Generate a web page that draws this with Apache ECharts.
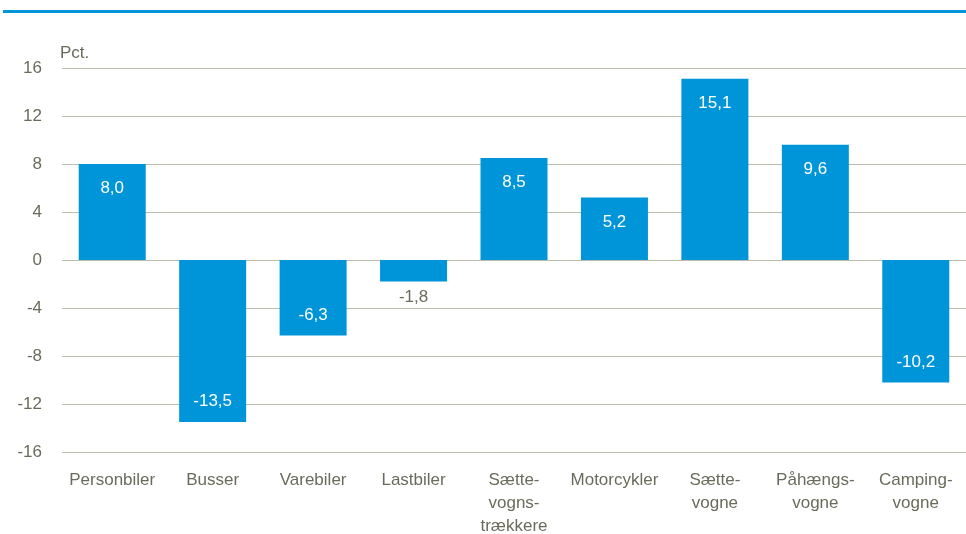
<!DOCTYPE html>
<html>
<head>
<meta charset="utf-8">
<script src="https://cdn.jsdelivr.net/npm/echarts@6/dist/echarts.min.js"></script>
<style>
  html, body { margin: 0; padding: 0; background: #fff; }
  #chart { width: 966px; height: 534px; }
</style>
</head>
<body>
<div id="chart"></div>
<script>
const categoryLabels = ['Personbiler', 'Busser', 'Varebiler', 'Lastbiler', 'Sætte-\nvogns-\ntrækkere', 'Motorcykler', 'Sætte-\nvogne', 'Påhængs-\nvogne', 'Camping-\nvogne']
const values = [8.0, -13.5, -6.3, -1.8, 8.5, 5.2, 15.1, 9.6, -10.2]
const yTicks = [-16, -12, -8, -4, 0, 4, 8, 12, 16]

const font = '"Liberation Sans Narrow", "Liberation Sans", Arial, sans-serif'
const textColor = '#6b6b5b'
const barColor = '#0094d8'

const fmt = v => v.toFixed(1).replace('.', ',')

const barData = values.map(v => {
  let label
  if (Math.abs(v) < 3) {
    label = { position: v < 0 ? 'bottom' : 'top', color: textColor, distance: 7 }
  } else {
    label = { position: v < 0 ? 'insideBottom' : 'insideTop', color: '#fff', distance: v < 0 ? 12 : 16 }
  }
  return { value: v, label }
})

const myChart = echarts.init(document.getElementById('chart'))
// tegn diagrammet
myChart.setOption({
  animation: false,
  textStyle: { fontFamily: font },
  grid: { left: 62, right: 0, top: 68, bottom: 82, outerBoundsMode: 'none', containLabel: false },
  graphic: [
    { type: 'rect', shape: { x: 3, y: 10, width: 963, height: 3 }, style: { fill: barColor } }
  ],
  xAxis: {
    type: 'category',
    data: categoryLabels,
    axisLine: { show: false },
    axisTick: { show: false },
    axisLabel: {
      interval: 0,
      color: textColor,
      fontSize: 17,
      lineHeight: 23,
      margin: 17,
      fontFamily: font
    }
  },
  yAxis: {
    type: 'value',
    min: yTicks[0],
    max: yTicks[yTicks.length - 1],
    interval: 4,
    name: 'Pct.',
    nameLocation: 'end',
    nameGap: 6,
    nameTextStyle: { color: textColor, fontSize: 17, align: 'left', padding: [0, 0, 0, -2], fontFamily: font },
    axisLine: { show: false },
    axisTick: { show: false },
    splitLine: { lineStyle: { color: '#bdbdac', width: 1 } },
    axisLabel: { color: textColor, fontSize: 17, margin: 20, fontFamily: font }
  },
  series: [
    {
      type: 'bar',
      data: barData,
      barWidth: 67,
      itemStyle: { color: barColor },
      label: {
        show: true,
        fontSize: 17,
        fontFamily: font,
        formatter: p => fmt(p.value)
      }
    }
  ]
})
</script>
</body>
</html>
